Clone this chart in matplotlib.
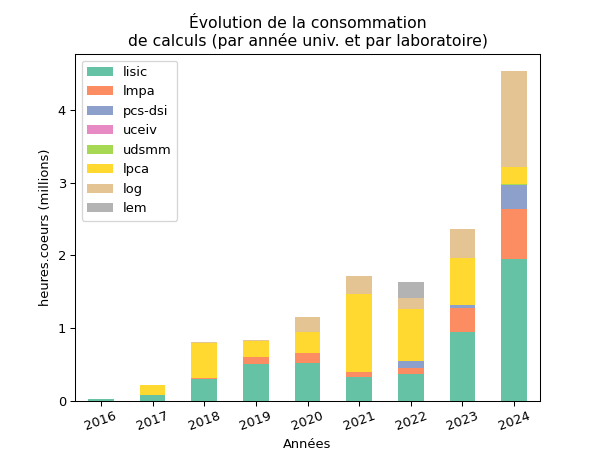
import numpy as np
import matplotlib
matplotlib.use("Agg")
import matplotlib.pyplot as plt

# Data (millions of core-hours)
years = ["2016", "2017", "2018", "2019", "2020", "2021", "2022", "2023", "2024"]
labs = ["lisic", "lmpa", "pcs-dsi", "uceiv", "udsmm", "lpca", "log", "lem"]
lisic = [0.02, 0.07, 0.30, 0.51, 0.52, 0.32, 0.37, 0.94, 1.945]
lmpa = [0.0, 0.005, 0.01, 0.09, 0.13, 0.07, 0.085, 0.34, 0.695]
pcs_dsi = [0.0, 0.0, 0.005, 0.005, 0.01, 0.0, 0.085, 0.03, 0.33]
uceiv = [0.0, 0.0, 0.0, 0.0, 0.0, 0.0, 0.0, 0.0, 0.0]
udsmm = [0.0, 0.0, 0.0, 0.0, 0.0, 0.0, 0.0, 0.0, 0.02]
lpca = [0.0, 0.14, 0.48, 0.22, 0.29, 1.08, 0.715, 0.65, 0.23]
log = [0.0, 0.005, 0.005, 0.01, 0.20, 0.24, 0.165, 0.40, 1.33]
lem = [0.0, 0.0, 0.0, 0.0, 0.0, 0.01, 0.22, 0.0, 0.0]

series = [lisic, lmpa, pcs_dsi, uceiv, udsmm, lpca, log, lem]
colors = plt.get_cmap("Set2").colors


def plot_stacked():
    fig, ax = plt.subplots(figsize=(6.4, 4.8), dpi=93.75)
    x = np.arange(len(years))
    bottom = np.zeros(len(years))
    for name, vals, col in zip(labs, series, colors):
        vals = np.array(vals)
        ax.bar(x, vals, width=0.5, bottom=bottom, color=col, label=name)
        bottom += vals
    ax.set_xlim(-0.5, len(years) - 0.5)
    ax.set_ylim(0, bottom.max() * 1.05)
    ax.set_xticks(x)
    ax.set_xticklabels(years, rotation=20)
    ax.set_xlabel("Années")
    ax.set_ylabel("heures.coeurs (millions)")
    ax.set_title("Évolution de la consommation\nde calculs (par année univ. et par laboratoire)")
    ax.legend(loc="upper left")
    fig.savefig("out.png")


def main():
    plot_stacked()


if __name__ == "__main__":
    main()
